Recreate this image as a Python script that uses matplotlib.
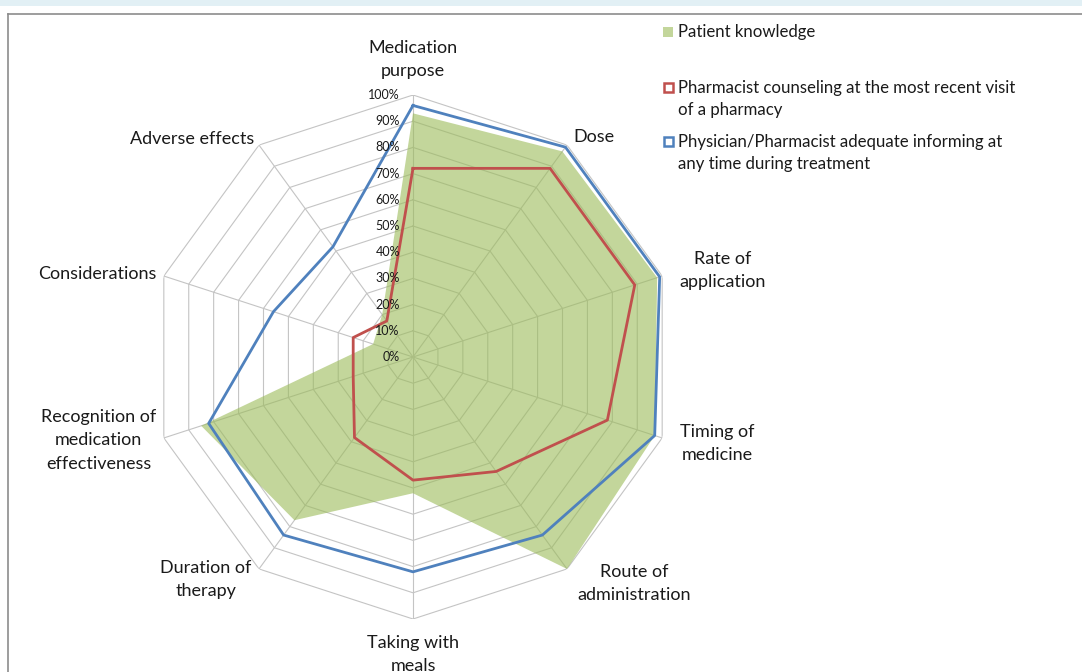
import numpy as np
import matplotlib
matplotlib.use("Agg")
import matplotlib.pyplot as plt
from matplotlib.patches import Rectangle
from matplotlib.lines import Line2D

plt.rcParams["font.family"] = ["Lato", "DejaVu Sans"]

# categories clockwise from the top
categories = [
    "Medication\npurpose", "Dose", "Rate of\napplication", "Timing of\nmedicine",
    "Route of\nadministration", "Taking with\nmeals", "Duration of\ntherapy",
    "Recognition of\nmedication\neffectiveness", "Considerations", "Adverse effects",
]
# values in percent
patient_knowledge = [93, 97, 98, 97, 100, 52, 77, 85, 16, 20]
pharmacist_counseling = [72, 89, 89, 78, 54, 47, 38, 24, 24, 17]
adequate_informing = [96, 99, 99, 97, 84, 82, 84, 82, 56, 52]
series_labels = [
    "Patient knowledge",
    "Pharmacist counseling at the most recent visit\nof a pharmacy",
    "Physician/Pharmacist adequate informing at\nany time during treatment",
]
ring_levels = list(range(0, 101, 10))

GREEN = "#9bbb59"
RED = "#c0504d"
BLUE = "#4f81bd"
GRID = "#c4c4c4"

W, H = 1082, 672
fig = plt.figure(figsize=(W / 100, H / 100), dpi=100)

# page decoration: light band at top and the chart frame
fig.add_artist(Rectangle((0, 1 - 6 / H), 1, 6 / H, transform=fig.transFigure,
                         facecolor="#e2f0f5", edgecolor="none"))
fig.add_artist(Line2D([7.5 / W, 7.5 / W], [0, 1 - 14 / H], transform=fig.transFigure,
                      color="#8c8c8c", lw=1.2))
fig.add_artist(Line2D([7.5 / W, 1], [1 - 14 / H, 1 - 14 / H], transform=fig.transFigure,
                      color="#8c8c8c", lw=1.2))

cx, cy, R = 413, 357, 262
ax = fig.add_axes([(cx - R) / W, (H - cy - R) / H, 2 * R / W, 2 * R / H], projection="polar")
ax.set_theta_zero_location("N")
ax.set_theta_direction(-1)
ax.set_ylim(0, 100)
ax.grid(False)
ax.set_xticks([])
ax.set_yticks([])
ax.spines["polar"].set_visible(False)
ax.patch.set_alpha(0)

n = len(categories)
theta = np.arange(n) * 2 * np.pi / n
theta_closed = np.append(theta, theta[0])

def closed(vals):
    return np.append(vals, vals[0])

# polygon grid and spokes
for lvl in ring_levels[1:]:
    ax.plot(theta_closed, [lvl] * (n + 1), color=GRID, lw=0.8, zorder=1)
for t in theta:
    ax.plot([t, t], [0, 100], color=GRID, lw=0.8, zorder=1)

ax.fill(theta_closed, closed(patient_knowledge), color=GREEN, alpha=0.6, lw=0, zorder=2)
ax.plot(theta_closed, closed(pharmacist_counseling), color=RED, lw=2.0, zorder=3)
ax.plot(theta_closed, closed(adequate_informing), color=BLUE, lw=2.0, zorder=4)

for lvl in ring_levels:
    ax.annotate(f"{lvl}%", xy=(0, lvl), xytext=(-9.5, 0), textcoords="offset points",
                ha="right", va="center", fontsize=9, color="#1a1a1a", zorder=5)

# category labels
label_pos = [
    (106, "center", "bottom"), (104, "left", "center"), (107, "left", "center"),
    (107, "left", "center"), (107, "left", "center"), (106, "center", "top"),
    (105, "right", "center"), (103, "right", "center"), (103, "right", "center"),
    (103, "right", "center"),
]
for t, lab, (r, ha, va) in zip(theta, categories, label_pos):
    ax.text(t, r, lab, ha=ha, va=va, multialignment="center", fontsize=13,
            color="#1a1a1a", clip_on=False, linespacing=1.55)

# legend
colors = [GREEN, RED, BLUE]
legend_y = [31, 87, 141]
for i, (lab, col, y) in enumerate(zip(series_labels, colors, legend_y)):
    if i == 0:
        sq = Rectangle((663 / W, 1 - 36.5 / H), 10 / W, 10 / H, transform=fig.transFigure,
                       facecolor="#c3d69b", edgecolor="none")
    else:
        sq = Rectangle((663.5 / W, 1 - (y + 4.5) / H), 9 / W, 9 / H, transform=fig.transFigure,
                       facecolor="white", edgecolor=col, lw=1.8)
    fig.add_artist(sq)
    fig.text(678 / W, 1 - (y - 7.5) / H, lab, ha="left", va="top", fontsize=12.1,
             color="#1a1a1a", linespacing=1.5)

fig.savefig("out.png", dpi=100)
